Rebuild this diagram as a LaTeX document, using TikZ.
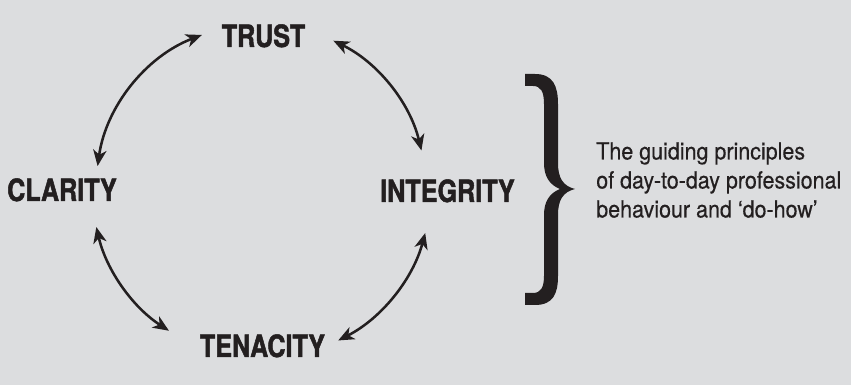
\documentclass[tikz,border=0pt]{standalone}
\usepackage{fontspec}
\setmainfont{TeX Gyre Heros}
\newfontfamily\labelfont{TeX Gyre Heros}[FakeStretch=0.82, BoldFeatures={FakeBold=1.6}]
\newfontfamily\notefont{TeX Gyre Heros}[FakeStretch=0.91, FakeBold=0.3]
\usepackage{xcolor}
\usepackage{tikz}
\usetikzlibrary{arrows.meta}

\definecolor{panelgray}{HTML}{DCDDDF}
\definecolor{ink}{HTML}{231F20}

\begin{document}
\begin{tikzpicture}[
  x=0.75pt,
  y=0.75pt,
  >={Stealth[length=12pt, width=10pt, inset=3.5pt]},
  value/.style={font=\labelfont\bfseries\fontsize{23}{23}\selectfont,
    text=ink, inner sep=0pt, anchor=base},
  link/.style={<->, line width=1.9pt, draw=ink},
  bracket/.style={fill=ink, draw=none},
  note/.style={font=\notefont\fontsize{17.7}{21.75}\selectfont, text=ink,
    align=left, anchor=north west, inner sep=0pt}
]

\useasboundingbox (0,0) rectangle (851,385);
\fill[panelgray] (0,0) rectangle (851,385);

\coordinate (hub) at (261,196);

\node[value] (trust) at (263.5,338) {TRUST};
\node[value] (clarity) at (62,184) {CLARITY};
\node[value] (integrity) at (447.5,183) {INTEGRITY};
\node[value] (tenacity) at (262.5,28) {TENACITY};

\draw[link] ([shift={(111:165)}]hub) arc[start angle=111, end angle=172, radius=165];
\draw[link] ([shift={(64:165)}]hub) arc[start angle=64, end angle=13.5, radius=165];
\draw[link] ([shift={(193:169)}]hub) arc[start angle=193, end angle=237, radius=169];
\draw[link] ([shift={(345:170)}]hub) arc[start angle=345, end angle=297, radius=170];

\fill[bracket] (525,311) -- (535,311)
  .. controls (553,311) and (558,299) .. (558,281) -- (558,222)
  .. controls (558,207) and (563,199) .. (575,196)
  .. controls (563,193) and (558,185) .. (558,170) -- (558,109)
  .. controls (558,91) and (553,80) .. (535,80) -- (525,80) -- (525,92) -- (533,92)
  .. controls (541,92) and (544,98) .. (544,109) -- (544,170)
  .. controls (544,184) and (550,192) .. (560,196)
  .. controls (550,200) and (544,208) .. (544,222) -- (544,281)
  .. controls (544,293) and (541,299) .. (533,299) -- (525,299) -- cycle;

\node[note] (principles) at (596,243)
  {The guiding principles\\of day-to-day professional\\behaviour and ‘do-how’};

\end{tikzpicture}
\end{document}
